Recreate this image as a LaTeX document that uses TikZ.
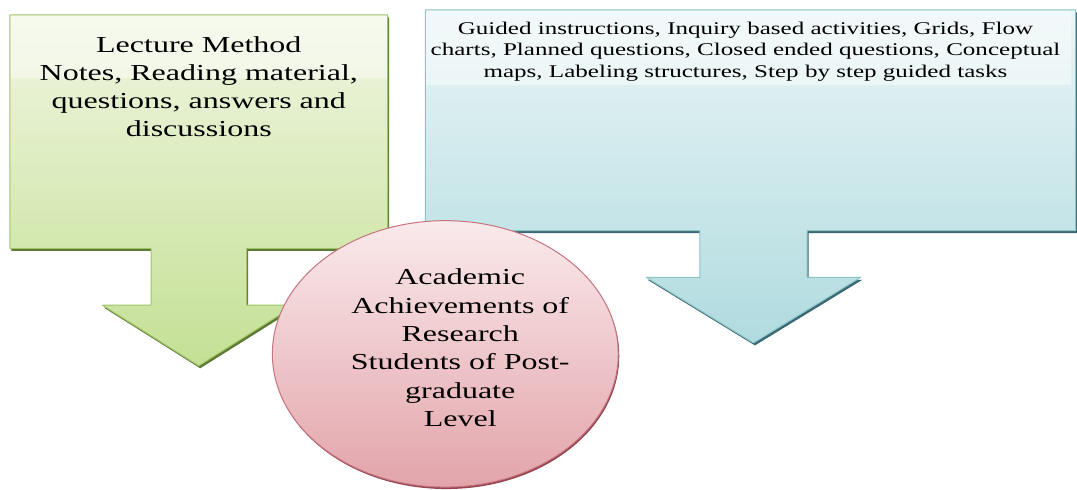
\documentclass[tikz,border=0pt]{standalone}
\usepackage{fontspec}
\setmainfont[FakeStretch=1.4]{Liberation Serif}

\definecolor{lectop}{RGB}{240,246,226}
\definecolor{lecbot}{RGB}{196,224,148}
\definecolor{lecedge}{RGB}{160,196,104}
\definecolor{lecshade}{RGB}{92,122,52}
\definecolor{guitop}{RGB}{234,245,246}
\definecolor{guibot}{RGB}{176,219,223}
\definecolor{guiedge}{RGB}{140,196,198}
\definecolor{guishade}{RGB}{58,104,116}
\definecolor{achtop}{RGB}{250,234,235}
\definecolor{achbot}{RGB}{226,164,170}
\definecolor{achedge}{RGB}{196,116,128}
\definecolor{achshade}{RGB}{150,70,80}

% 两个“方框＋下箭头”的轮廓（像素坐标，y 向下）
\newcommand\lecturepath{(10,15) -- (390,15) -- (390,250) -- (248,250) -- (248,307)
  -- (297,307) -- (200,368) -- (103,307) -- (152,307) -- (152,250) -- (10,250) -- cycle}
\newcommand\guidedpath{(428,10) -- (1082,10) -- (1082,232) -- (812,232) -- (812,279)
  -- (866,279) -- (758,345) -- (650,279) -- (704,279) -- (704,232) -- (428,232) -- cycle}

\begin{document}
\begin{tikzpicture}[x=1pt, y=-1pt, line join=round,
  boxtext/.style={align=center, inner sep=0pt, text=black}]

  % ── 左：绿色框（阴影 → 渐变 → 顶部亮带）──
  \fill[lecshade] [shift={(1.5,2.5)}] \lecturepath;
  \shade[top color=lectop, bottom color=lecbot, draw=lecedge, line width=1pt] \lecturepath;
  \fill[white, opacity=.45] (11,16) rectangle (389,78);

  % ── 右：青色框 ──
  \fill[guishade] [shift={(1.5,2.5)}] \guidedpath;
  \shade[top color=guitop, bottom color=guibot, draw=guiedge, line width=1pt] \guidedpath;
  \fill[white, opacity=.45] (429,11) rectangle (1077,86);

  % ── 中间的粉色椭圆，压在两个框之上 ──
  \fill[achshade] (449,358) ellipse [x radius=174, y radius=134];
  \shade[top color=achtop, bottom color=achbot, draw=achedge, line width=1pt]
    (448,356) ellipse [x radius=174, y radius=134];

  % ── 文字 ──
  \node[boxtext, font=\fontsize{23}{28.3}\selectfont] (lecture) at (200,87)
    {Lecture Method\\Notes, Reading material,\\questions, answers and\\discussions};
  \node[boxtext, font=\fontsize{18}{21.5}\selectfont] (guided) at (750,52)
    {Guided instructions, Inquiry based activities, Grids, Flow\\charts, Planned questions, Closed ended questions, Conceptual\\maps, Labeling structures, Step by step guided tasks};
  \node[boxtext, font=\fontsize{23}{28.5}\selectfont] (achieve) at (463,350)
    {Academic\\Achievements of\\Research\\Students of Post-\\graduate\\Level};

  % 钉死画布
  \path[use as bounding box] (0,0) rectangle (1077,491);
\end{tikzpicture}
\end{document}
